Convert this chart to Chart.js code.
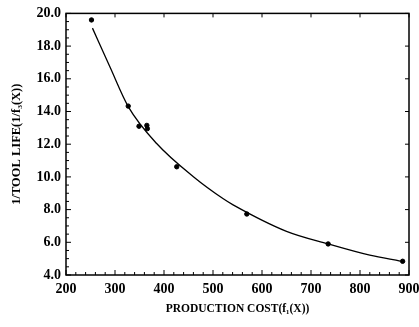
<!DOCTYPE html>
<html>
<head>
<meta charset="utf-8">
<script src="https://cdn.jsdelivr.net/npm/chart.js@4"></script>
<style>
  html, body { margin: 0; padding: 0; background: #fff; }
  #wrap { width: 419px; height: 327px; }
</style>
</head>
<body>
<div id="wrap"><canvas id="paretoChart"></canvas></div>
<script>
// measured points (production cost, 1/tool life)
const costPoints = [252, 327, 349, 365, 366, 426, 569, 735, 887];
const lifePoints = [19.6, 14.33, 13.1, 13.15, 12.95, 10.62, 7.73, 5.9, 4.84];

// fitted curve
const curveCost = [254, 290, 327, 385, 460, 521, 541, 650, 735, 820, 882];
const curveLife = [19.1, 16.7, 14.3, 12.04, 10.01, 8.66, 8.29, 6.67, 5.9, 5.21, 4.85];

const xTicks = [200, 300, 400, 500, 600, 700, 800, 900];
const yTicks = [4, 6, 8, 10, 12, 14, 16, 18, 20];

const serif = 'Liberation Serif';

// inward tick marks + frame
const frameTicks = {
    id: 'frameTicks',
    afterDraw(chart) {
        const { ctx, chartArea: a, scales } = chart;
        const x = scales.x, y = scales.y;
        ctx.save();
        ctx.strokeStyle = '#000';
        ctx.lineWidth = 1.5;
        ctx.strokeRect(a.left, a.top, a.right - a.left, a.bottom - a.top);
        ctx.lineWidth = 1;
        ctx.beginPath();
        for (let v = 200; v <= 900; v += 20) {
            const px = x.getPixelForValue(v);
            const len = v % 100 === 0 ? 5 : 3;
            ctx.moveTo(px, a.bottom); ctx.lineTo(px, a.bottom - len);
            if (v % 100 === 0) { ctx.moveTo(px, a.top); ctx.lineTo(px, a.top + 4); }
        }
        for (let v = 4; v <= 20; v += 0.5) {
            const py = y.getPixelForValue(v);
            const len = v % 2 === 0 ? 5 : 3;
            ctx.moveTo(a.left, py); ctx.lineTo(a.left + len, py);
            if (v % 2 === 0) { ctx.moveTo(a.right, py); ctx.lineTo(a.right - 4, py); }
        }
        ctx.stroke();
        ctx.restore();
    }
};

new Chart(document.getElementById('paretoChart'), {
    type: 'scatter',
    data: {
        datasets: [
            {
                label: 'fit',
                data: curveCost.map((c, i) => ({ x: c, y: curveLife[i] })),
                showLine: true,
                borderColor: '#000',
                borderWidth: 1.3,
                pointRadius: 0,
                cubicInterpolationMode: 'monotone'
            },
            {
                label: 'points',
                data: costPoints.map((c, i) => ({ x: c, y: lifePoints[i] })),
                backgroundColor: '#000',
                borderColor: '#000',
                pointRadius: 2.2
            }
        ]
    },
    options: {
        responsive: true,
        maintainAspectRatio: false,
        animation: false,
        layout: { padding: { left: 0, right: 0, top: 12, bottom: 0 } },
        plugins: {
            legend: { display: false },
            tooltip: { enabled: false }
        },
        scales: {
            x: {
                type: 'linear',
                min: 200, max: 900,
                afterBuildTicks: s => { s.ticks = xTicks.map(v => ({ value: v })); },
                afterFit: s => { s.height = 52; s.paddingRight = 10; s.paddingLeft = 0; },
                grid: { display: false, drawTicks: false },
                border: { display: false },
                ticks: {
                    color: '#000', padding: 6,
                    maxRotation: 0,
                    font: { family: serif, size: 14, weight: 'bold' }
                },
                title: {
                    display: true,
                    text: 'PRODUCTION COST(f\u2081(X))',
                    color: '#000',
                    padding: { top: 10, bottom: 11 },
                    font: { family: serif, size: 11.5, weight: 'bold' }
                }
            },
            y: {
                type: 'linear',
                min: 4, max: 20,
                afterBuildTicks: s => { s.ticks = yTicks.map(v => ({ value: v })); },
                afterFit: s => { s.width = 66; },
                grid: { display: false, drawTicks: false },
                border: { display: false },
                ticks: {
                    color: '#000', padding: 5,
                    callback: v => Number(v).toFixed(1),
                    font: { family: serif, size: 14, weight: 'bold' }
                },
                title: {
                    display: true,
                    text: '1/TOOL LIFE(1/f\u2083(X))',
                    color: '#000',
                    padding: { top: 9, bottom: 0 },
                    font: { family: serif, size: 12.5, weight: 'bold' }
                }
            }
        }
    },
    plugins: [frameTicks]
});
</script>
</body>
</html>
